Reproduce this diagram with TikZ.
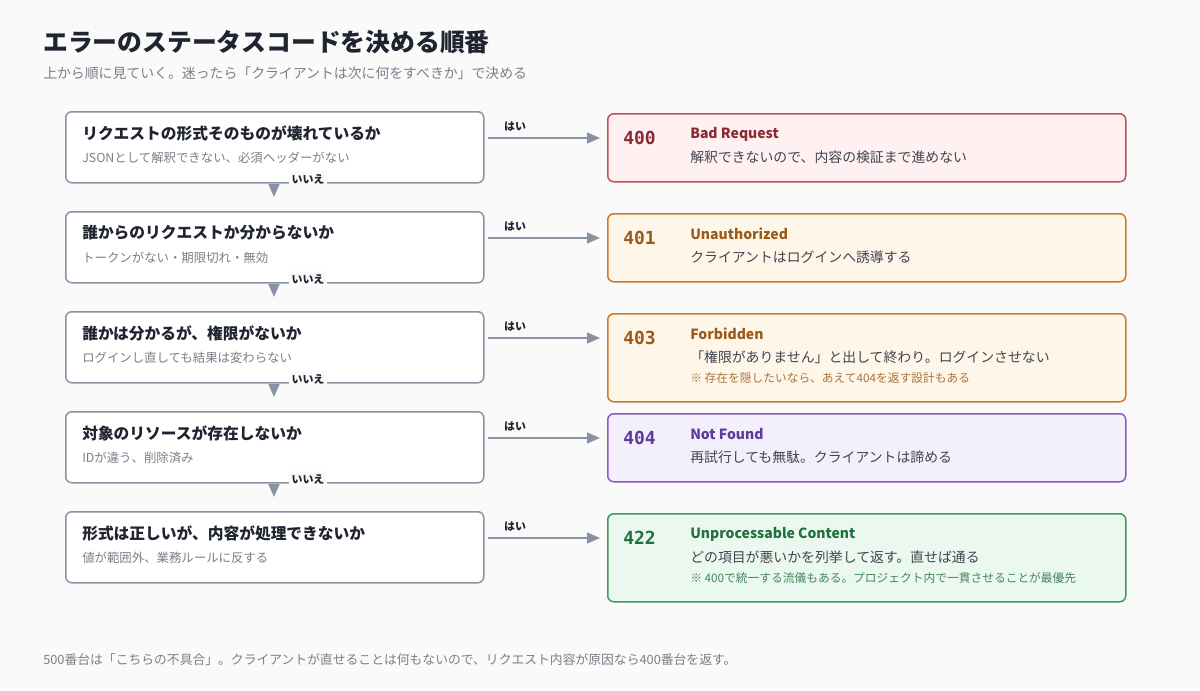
\documentclass[tikz,border=0pt]{standalone}
\usepackage{fontspec}
\setmainfont{Noto Sans CJK JP}
\newfontfamily\codefont{DejaVu Sans Mono}
\usetikzlibrary{arrows.meta}
\definecolor{bg}{HTML}{FAFAFA}
\definecolor{ink}{HTML}{1F2430}
\definecolor{sub}{HTML}{7A7F88}
\definecolor{edge}{HTML}{8A93A3}
\definecolor{rB}{HTML}{C0505A}\definecolor{rF}{HTML}{FFF0F1}\definecolor{rT}{HTML}{8B2A35}
\definecolor{oB}{HTML}{C97A2A}\definecolor{oF}{HTML}{FFF6EA}\definecolor{oT}{HTML}{9A5A1A}
\definecolor{pB}{HTML}{8A5CC2}\definecolor{pF}{HTML}{F4EFFC}\definecolor{pT}{HTML}{5E3A9A}
\definecolor{gB}{HTML}{3C9A5F}\definecolor{gF}{HTML}{EBF8EF}\definecolor{gT}{HTML}{22703F}
\begin{document}
\begin{tikzpicture}[x=0.75pt,y=-0.75pt,
  q/.style={draw=edge,line width=1.5pt*0.75,fill=white,rounded corners=6pt*0.75,minimum width=418*0.75pt,minimum height=71*0.75pt,anchor=north west,inner sep=0pt},
  r/.style={line width=1.5pt*0.75,rounded corners=6pt*0.75,minimum width=518*0.75pt,anchor=north west,inner sep=0pt},
  qt/.style={anchor=west,font=\fontsize{11.8}{13}\selectfont\bfseries,text=ink,inner sep=0pt},
  qs/.style={anchor=west,font=\fontsize{9.3}{11}\selectfont,text=sub,inner sep=0pt},
  code/.style={anchor=west,font=\fontsize{13.5}{15}\selectfont\codefont\bfseries,inner sep=0pt},
  rt/.style={anchor=west,font=\fontsize{10.5}{12}\selectfont\bfseries,inner sep=0pt},
  rd/.style={anchor=west,font=\fontsize{10.4}{12}\selectfont,text=ink!85,inner sep=0pt},
  rn/.style={anchor=west,font=\fontsize{8.8}{10}\selectfont,inner sep=0pt},
  yes/.style={font=\fontsize{8.2}{10}\selectfont\bfseries,text=ink,inner sep=0pt},
  no/.style={font=\fontsize{8.2}{10}\selectfont\bfseries,text=ink,fill=bg,inner sep=2pt},
  arr/.style={draw=edge,line width=1.5pt*0.75,-{Triangle[length=13pt*0.75,width=11pt*0.75]}}
]
\fill[bg] (0,0) rectangle (1200,690);
\useasboundingbox (0,0) rectangle (1200,690);
\node[anchor=west,inner sep=0pt,font=\fontsize{18.6}{20}\selectfont\bfseries,text=ink] (title) at (43,42) {エラーのステータスコードを決める順番};
\node[anchor=west,inner sep=0pt,font=\fontsize{10.4}{12}\selectfont,text=sub] (subt) at (43,73) {上から順に見ていく。迷ったら「クライアントは次に何をすべきか」で決める};
% questions
\foreach \n/\y/\t/\s in {1/111/リクエストの形式そのものが壊れているか/JSONとして解釈できない、必須ヘッダーがない,
  2/211/誰からのリクエストか分からないか/トークンがない・期限切れ・無効,
  3/311/誰かは分かるが、権限がないか/ログインし直しても結果は変わらない,
  4/411/対象のリソースが存在しないか/IDが違う、削除済み,
  5/511/形式は正しいが、内容が処理できないか/値が範囲外、業務ルールに反する}{
  \node[q] (q\n) at (65,\y) {};
  \node[qt] (qt\n) at (82,\y+22) {\t};
  \node[qs] (qs\n) at (82,\y+47) {\s};
}
% results
\node[r,draw=rB,fill=rF,minimum height=68*0.75pt] (a1) at (607,113) {};
\node[r,draw=oB,fill=oF,minimum height=68*0.75pt] (a2) at (607,213) {};
\node[r,draw=oB,fill=oF,minimum height=88*0.75pt] (a3) at (607,313) {};
\node[r,draw=pB,fill=pF,minimum height=68*0.75pt] (a4) at (607,413) {};
\node[r,draw=gB,fill=gF,minimum height=88*0.75pt] (a5) at (607,513) {};
\node[code,text=rT] (c1) at (623,138) {400};
\node[rt,text=rT] (t1) at (690,134) {Bad Request};
\node[rd] (d1) at (690,157) {解釈できないので、内容の検証まで進めない};
\node[code,text=oT] (c2) at (623,238) {401};
\node[rt,text=oT] (t2) at (690,234) {Unauthorized};
\node[rd] (d2) at (690,257) {クライアントはログインへ誘導する};
\node[code,text=oT] (c3) at (623,338) {403};
\node[rt,text=oT] (t3) at (690,334) {Forbidden};
\node[rd] (d3) at (690,357) {「権限がありません」と出して終わり。ログインさせない};
\node[rn,text=oT!85] (n3) at (690,378) {※ 存在を隠したいなら、あえて404を返す設計もある};
\node[code,text=pT] (c4) at (623,438) {404};
\node[rt,text=pT] (t4) at (690,434) {Not Found};
\node[rd] (d4) at (690,457) {再試行しても無駄。クライアントは諦める};
\node[code,text=gT] (c5) at (623,538) {422};
\node[rt,text=gT] (t5) at (690,534) {Unprocessable Content};
\node[rd] (d5) at (690,557) {どの項目が悪いかを列挙して返す。直せば通る};
\node[rn,text=gT!85] (n5) at (690,578) {※ 400で統一する流儀もある。プロジェクト内で一貫させることが最優先};
% yes arrows
\foreach \n/\y in {1/138,2/238,3/338,4/438,5/538}{
  \coordinate (ys\n) at (488,\y);
  \coordinate (ye\n) at (600,\y);
  \draw[arr] (ys\n) -- (ye\n);
  \node[yes] (yl\n) at (515,\y-12) {はい};
}
% no arrows
\foreach \n/\m in {1/2,2/3,3/4,4/5}{
  \draw[arr,shorten >=14*0.75pt] (q\n.south -| 274,0) -- (q\m.north -| 274,0);
  \node[no] (nl\n) at (308,{(\n-1)*100+179}) {いいえ};
}
\node[anchor=west,inner sep=0pt,font=\fontsize{9.6}{11}\selectfont,text=sub] (foot) at (43,660) {500番台は「こちらの不具合」。クライアントが直せることは何もないので、リクエスト内容が原因なら400番台を返す。};
\end{tikzpicture}
\end{document}
